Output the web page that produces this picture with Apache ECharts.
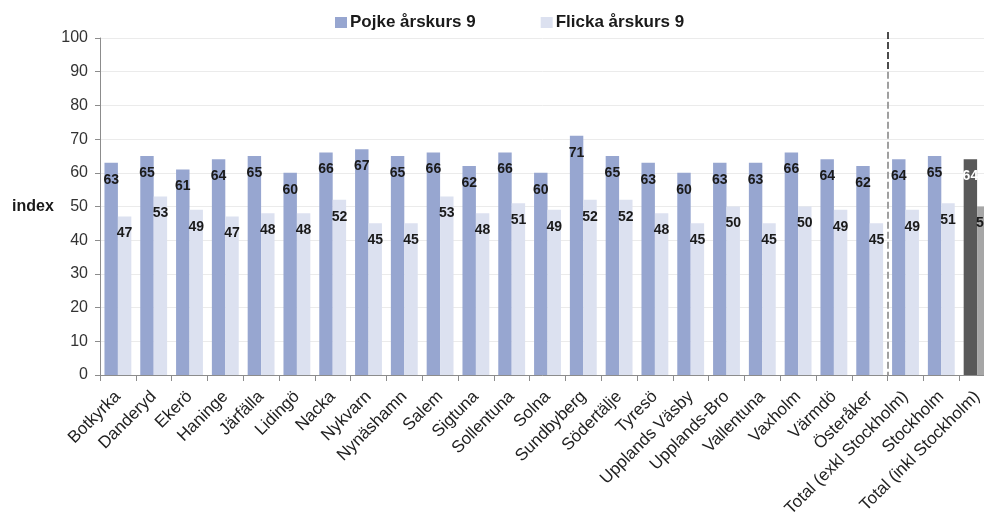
<!DOCTYPE html>
<html>
<head>
<meta charset="utf-8">
<script src="https://cdn.jsdelivr.net/npm/echarts@6/dist/echarts.min.js"></script>
<style>html,body{margin:0;padding:0;background:#fff;}#c{width:984px;height:526px;}</style>
</head>
<body>
<div id="c"></div>
<script>
const categories = ['Botkyrka','Danderyd','Ekerö','Haninge','Järfälla','Lidingö','Nacka','Nykvarn','Nynäshamn','Salem','Sigtuna','Sollentuna','Solna','Sundbyberg','Södertälje','Tyresö','Upplands Väsby','Upplands-Bro','Vallentuna','Vaxholm','Värmdö','Österåker','Total (exkl Stockholm)','Stockholm','Total (inkl Stockholm)'];
const pojke = [63,65,61,64,65,60,66,67,65,66,62,66,60,71,65,63,60,63,63,66,64,62,64,65,64];
const flicka = [47,53,49,47,48,48,52,45,45,53,48,51,49,52,52,48,45,50,45,50,49,45,49,51,50];
const yTicks = [0,10,20,30,40,50,60,70,80,90,100];
const seriesNames = ['Pojke årskurs 9','Flicka årskurs 9'];
const dividerAfter = 'Österåker';

const FONT = 'Liberation Sans, Arial, sans-serif';
const chart = echarts.init(document.getElementById('c'));
const lastIdx = categories.length - 1;

function mk(vals, highlight, hlLabel) {
  return vals.map((v, i) => i === lastIdx
    ? { value: v, itemStyle: { color: highlight }, label: { color: hlLabel } }
    : v);
}

const labelCfg = {
  show: true, position: 'insideTop', distance: 10,
  fontFamily: FONT, fontSize: 14, fontWeight: 'bold', color: '#1a1a1a'
};

chart.setOption({
  backgroundColor: '#fff',
  animation: false,
  legend: {
    left: 330, top: 9,
    itemWidth: 12, itemHeight: 11, itemGap: 65,
    textStyle: { fontFamily: FONT, fontSize: 17, fontWeight: 'bold', color: '#1a1a1a', padding: [0,0,0,-2] },
    data: seriesNames.map(n => ({ name: n, icon: 'rect' }))
  },
  grid: { left: 100, width: 895, top: 38, bottom: 151, containLabel: false, outerBoundsMode: 'none' },
  xAxis: {
    type: 'category', data: categories,
    axisLine: { lineStyle: { color: '#8c8c8c' } },
    axisTick: { show: true, length: 6, lineStyle: { color: '#8c8c8c' } },
    axisLabel: { rotate: 45, interval: 0, margin: 19, fontFamily: FONT, fontSize: 17, color: '#222' }
  },
  yAxis: {
    type: 'value', min: 0, max: 100, interval: 10,
    name: 'index', nameLocation: 'middle', nameRotate: 0, nameGap: 67,
    nameTextStyle: { fontFamily: FONT, fontSize: 16, fontWeight: 'bold', color: '#1a1a1a', align: 'center' },
    axisLine: { show: true, lineStyle: { color: '#8c8c8c' } },
    axisTick: { show: true, length: 5, lineStyle: { color: '#8c8c8c' } },
    axisLabel: { margin: 12, fontFamily: FONT, fontSize: 16, color: '#333',
      formatter: v => yTicks.includes(v) ? String(v) : '' },
    splitLine: { lineStyle: { color: '#ebebeb' } }
  },
  series: [
    { name: seriesNames[0], type: 'bar', data: mk(pojke, '#595959', '#fff'),
      itemStyle: { color: '#97a6d0' }, barGap: '0%', barCategoryGap: '25%', label: labelCfg },
    { name: seriesNames[1], type: 'bar', data: mk(flicka, '#a6a6a6', '#1a1a1a'),
      itemStyle: { color: '#dce1f0' }, label: labelCfg }
  ]
});

// dashed divider between Österåker and the totals
const i0 = categories.indexOf(dividerAfter);
const x0 = chart.convertToPixel({ xAxisIndex: 0 }, categories[i0]);
const x1 = chart.convertToPixel({ xAxisIndex: 0 }, categories[i0 + 1]);
const xm = Math.round((x0 + x1) / 2);
const yTop = chart.convertToPixel({ yAxisIndex: 0 }, 100) - 6;
const yMid = chart.convertToPixel({ yAxisIndex: 0 }, 90);
const yBot = chart.convertToPixel({ yAxisIndex: 0 }, 0);
chart.setOption({
  graphic: [{
    type: 'line', z: 100, silent: true,
    shape: { x1: xm, y1: yTop, x2: xm, y2: yMid },
    style: { stroke: '#111', lineWidth: 1.5, lineDash: [7, 3] }
  }, {
    type: 'line', z: 100, silent: true,
    shape: { x1: xm, y1: yMid, x2: xm, y2: yBot },
    style: { stroke: '#a0a0a0', lineWidth: 2, lineDash: [7, 3] }
  }]
});
</script>
</body>
</html>
